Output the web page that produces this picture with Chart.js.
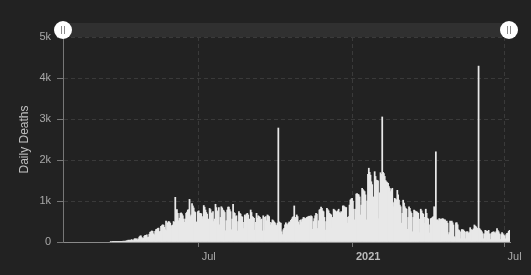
<!DOCTYPE html>
<html>
<head>
<meta charset="utf-8">
<script src="https://cdn.jsdelivr.net/npm/chart.js@4.4.1/dist/chart.umd.min.js"></script>
<style>
  html, body { margin: 0; padding: 0; background: #222222; }
  #wrap { width: 531px; height: 275px; }
</style>
</head>
<body>
<div id="wrap"><canvas id="chart"></canvas></div>
<script>
// daily deaths, 2020 part starts on 18 Mar 2020
const startDate2020 = '2020-03-18';
const deaths2020 = [
  1, 0, 1, 2, 1, 2, 1,
  3, 4, 4, 6, 4, 8, 8,
  8, 22, 15, 20, 19, 31, 32,
  46, 37, 48, 36, 60, 38, 36,
  70, 85, 60, 80, 50, 75, 120,
  145, 150, 110, 85, 95, 140, 160,
  165, 175, 110, 120, 190, 240, 250,
  270, 260, 200, 175, 260, 300, 310,
  330, 340, 250, 260, 380, 400, 420,
  410, 360, 300, 510, 280, 470, 500,
  490, 460, 320, 400, 415, 500, 480,
  1090, 780, 790, 700,
  520, 580, 700, 710, 690, 640, 560,
  480, 560, 700, 730, 780, 790, 1040,
  620, 660, 940, 880, 830, 740, 720,
  490, 480, 740, 760, 700, 700, 690,
  560, 620, 890, 850, 780, 720, 680,
  540, 560, 820, 790, 710, 700, 740,
  500, 560, 920, 840, 740, 760, 840,
  420, 600, 860, 830, 780, 760, 720,
  276, 520, 780, 850, 850, 790, 740,
  300, 560, 920, 720, 700, 620, 640,
  270, 500, 740, 700, 680, 620, 610,
  330, 480, 660, 640, 680, 700, 660,
  300, 560, 780, 720, 620, 600, 580,
  290, 480, 700, 580, 640, 620, 600,
  540, 560, 270, 640, 600, 280, 620,
  520, 660, 640, 620, 480, 415, 470,
  540, 520, 490, 470, 415, 400, 460,
  2780, 490, 470, 460, 250, 180, 300,
  333, 420, 470, 430, 415, 460, 490,
  470, 530, 560, 600, 620, 880, 570,
  600, 660, 620, 490, 420, 530, 540,
  490, 560, 600, 590, 570, 570, 600,
  610, 620, 630, 600, 640, 620, 310,
  500, 570, 640, 700, 680, 330, 520,
  780, 800, 850, 820, 760, 740, 600,
  290, 500, 820, 790, 760, 700, 680,
  660, 330, 600, 800, 780, 760, 740,
  700, 760, 800, 720, 700, 740, 660,
  880, 880, 860, 840, 840, 600, 460,
  620, 900, 1024, 1050, 1065
];

// 2021 part starts on 1 Jan 2021
const startDate2021 = '2021-01-01';
const deaths2021 = [
  1000, 800, 540,
  800, 1170, 1180, 1160, 1150, 1100, 660,
  900, 1310, 1280, 1250, 1230, 1150, 540,
  1000, 1650, 1800, 1700, 1630, 1470, 1400,
  660, 1100, 1715, 1600, 1510, 1500, 1490,
  570, 1200, 1690, 1650, 3050, 1700, 1670,
  1600, 1500, 1470, 1450, 1430, 1350, 1310,
  1230, 1280, 1310, 860, 960, 1065, 1040,
  1024, 1260, 1150, 1020, 900, 860, 460,
  700, 1020, 950, 860, 820, 800, 310,
  600, 860, 820, 740, 700, 250, 600,
  780, 760, 740, 740, 720, 700, 230,
  560, 800, 760, 700, 680, 460, 600,
  800, 700, 580, 560, 220, 420, 570,
  580, 600, 620, 860, 700, 2200, 540,
  540, 520, 570, 560, 540, 560, 570,
  560, 537, 540, 500, 510, 460, 180,
  230, 510, 500, 510, 470, 415, 130,
  100, 470, 470, 420, 300, 280, 80,
  250, 305, 300, 290, 260, 80, 240,
  250, 250, 210, 230, 350, 300, 290,
  290, 320, 415, 390, 370, 340, 330,
  4290, 330, 300, 280, 250, 200, 80,
  200, 285, 270, 250, 260, 285, 200,
  60, 200, 230, 240, 250, 230, 210,
  250, 330, 280, 250, 200, 60, 180,
  230, 200, 170, 150, 80, 180, 210,
  220, 260, 285
];

const tickDates = ['2020-07-01', '2021-01-01', '2021-07-01'];
const tickLabels = ['Jul', '2021', 'Jul'];
const yTickLabels = ['0', '1k', '2k', '3k', '4k', '5k'];

const DAY = 86400000;
const base = Date.UTC(2020, 0, 1);
function dayIndex(iso) {
    const p = iso.split('-');
    return Math.round((Date.UTC(+p[0], +p[1] - 1, +p[2]) - base) / DAY);
}

const points = [];
deaths2020.forEach((v, i) => points.push({ x: dayIndex(startDate2020) + i, y: v }));
deaths2021.forEach((v, i) => points.push({ x: dayIndex(startDate2021) + i, y: v }));
const tickDays = tickDates.map(dayIndex);

const FONT = "'Liberation Sans', Arial, sans-serif";

// range slider look-alike above the plot
const scrollbar = {
    id: 'scrollbar',
    afterDraw(chart) {
        const { ctx, chartArea } = chart;
        const l = chartArea.left, r = chartArea.right - 1, cy = 30;
        ctx.save();
        ctx.fillStyle = '#303030';
        ctx.fillRect(l, 23, r - l, 14);
        [l, r].forEach(cx => {
            ctx.beginPath();
            ctx.arc(cx, cy, 9, 0, Math.PI * 2);
            ctx.fillStyle = '#ffffff';
            ctx.fill();
            ctx.strokeStyle = '#8a8a8a';
            ctx.lineWidth = 1;
            ctx.beginPath();
            ctx.moveTo(cx - 1.5, cy - 4); ctx.lineTo(cx - 1.5, cy + 4);
            ctx.moveTo(cx + 1.5, cy - 4); ctx.lineTo(cx + 1.5, cy + 4);
            ctx.stroke();
        });
        ctx.restore();
    }
};

const ctx = document.getElementById('chart').getContext('2d');
new Chart(ctx, {
    type: 'bar',
    data: {
        datasets: [{
            label: 'Daily Deaths',
            data: points,
            backgroundColor: '#e8e8e8',
            borderWidth: 0,
            barThickness: 1.1
        }]
    },
    options: {
        responsive: true,
        maintainAspectRatio: false,
        animation: false,
        events: [],
        layout: { padding: { top: 37, right: 21, left: 0, bottom: 0 } },
        plugins: {
            legend: { display: false },
            tooltip: { enabled: false }
        },
        scales: {
            x: {
                type: 'linear',
                min: 20,
                max: 553.5,
                offset: false,
                afterBuildTicks: scale => { scale.ticks = tickDays.map(v => ({ value: v })); },
                afterFit: scale => { scale.height = 33; },
                grid: {
                    offset: false,
                    color: '#3a3a3a',
                    tickColor: '#777777',
                    tickLength: 5,
                    tickBorderDash: []
                },
                border: { color: '#8a8a8a', width: 1, dash: [4, 3] },
                ticks: {
                    align: 'start',
                    labelOffset: 3,
                    padding: 3,
                    maxRotation: 0,
                    autoSkip: false,
                    color: c => c.index === 1 ? '#bbbbbb' : '#a8a8a8',
                    font: c => ({ family: FONT, size: 11, weight: c.index === 1 ? 'bold' : 'normal' }),
                    callback: (v, i) => tickLabels[i]
                }
            },
            y: {
                min: 0,
                max: 5000,
                afterFit: scale => { scale.width = 63; },
                grid: {
                    color: '#3a3a3a',
                    tickColor: '#777777',
                    tickLength: 6,
                    tickBorderDash: []
                },
                border: { color: '#777777', width: 1, dash: [4, 3] },
                ticks: {
                    stepSize: 1000,
                    padding: 6,
                    color: '#a8a8a8',
                    font: { family: FONT, size: 11 },
                    callback: (v, i) => yTickLabels[i]
                },
                title: {
                    display: true,
                    text: 'Daily Deaths',
                    color: '#c0c0c0',
                    font: { family: FONT, size: 12 },
                    padding: { top: 17, bottom: 0 }
                }
            }
        }
    },
    plugins: [scrollbar]
});
</script>
</body>
</html>
